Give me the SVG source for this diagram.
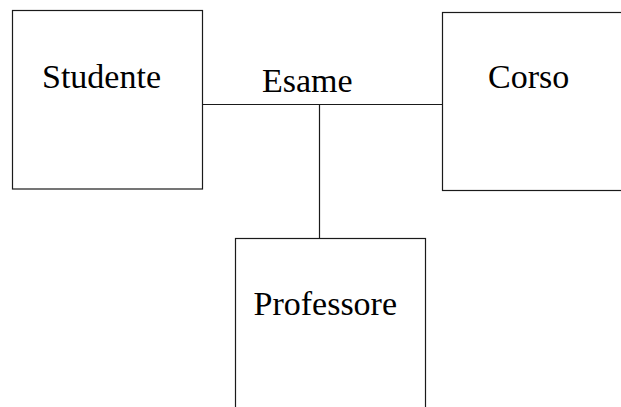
<svg xmlns="http://www.w3.org/2000/svg" width="621" height="407" viewBox="0 0 621 407">
  <style>
    .box { fill: #ffffff; stroke: #1a1a1a; stroke-width: 1.2; }
    .link { fill: none; stroke: #1a1a1a; stroke-width: 1.2; }
    .label { font-family: "Liberation Serif", "Times New Roman", serif; font-size: 34px; fill: #000000; }
  </style>
  <rect width="621" height="407" fill="#ffffff"/>
  <g id="connectors">
    <line class="link" x1="202.5" y1="104.5" x2="442.5" y2="104.5"/>
    <line class="link" x1="319.5" y1="104.5" x2="319.5" y2="238.5"/>
  </g>
  <g id="studente">
    <rect class="box" x="12.5" y="10.5" width="190" height="178.5"/>
    <text class="label" x="42" y="88">Studente</text>
  </g>
  <g id="corso">
    <rect class="box" x="442.5" y="12.5" width="190" height="178"/>
    <text class="label" x="488" y="88">Corso</text>
  </g>
  <g id="esame">
    <text class="label" x="262" y="91.5">Esame</text>
  </g>
  <g id="professore">
    <rect class="box" x="235.5" y="238.5" width="190" height="190"/>
    <text class="label" x="253.5" y="315">Professore</text>
  </g>
</svg>
